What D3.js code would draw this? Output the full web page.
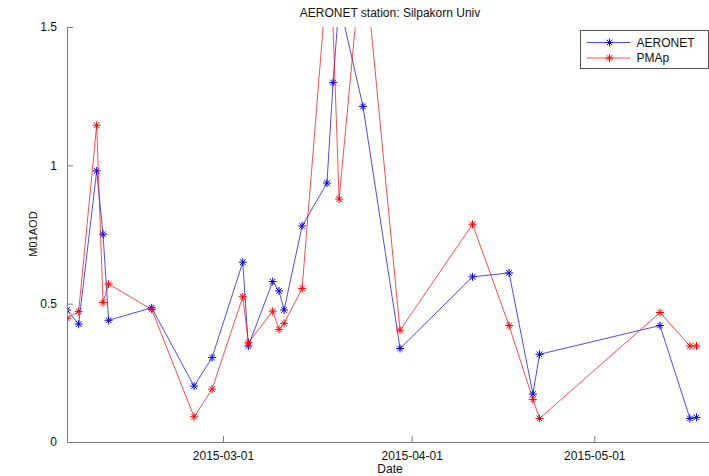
<!DOCTYPE html>
<html>
<head>
<meta charset="utf-8">
<script src="https://cdn.jsdelivr.net/npm/d3@7"></script>
<style>
  body { margin: 0; background: #fff; }
  svg { display: block; font-family: "Liberation Sans", Arial, sans-serif; }
</style>
</head>
<body>
<div id="chart"></div>
<script>
// AERONET station values (blue)
const aeronetDates = [
  '2015-02-03T09:00', '2015-02-05T07:00', '2015-02-08T06:00', '2015-02-09T07:00',
  '2015-02-10T05:00', '2015-02-17T07:00', '2015-02-24T06:00', '2015-02-27T05:00',
  '2015-03-04T06:00', '2015-03-05T04:00', '2015-03-09T04:00', '2015-03-10T05:00',
  '2015-03-11T01:00', '2015-03-14T00:00', '2015-03-18T02:00', '2015-03-19T02:00',
  '2015-03-20T02:00', '2015-03-24T00:00', '2015-03-30T02:00', '2015-04-11T00:00',
  '2015-04-17T00:00', '2015-04-20T22:00', '2015-04-22T00:00', '2015-05-11T19:00',
  '2015-05-16T17:00', '2015-05-17T19:00',
];
const aeronetValues = [
  0.477, 0.426, 0.98, 0.751, 0.44, 0.485, 0.202, 0.305,
  0.65, 0.347, 0.58, 0.546, 0.477, 0.781, 0.936, 1.299,
  1.59, 1.213, 0.338, 0.597, 0.611, 0.173, 0.317, 0.421,
  0.085, 0.089,
];

// PMAp retrievals (red)
const pmapDates = [
  '2015-02-03T09:00', '2015-02-05T07:00', '2015-02-08T06:00', '2015-02-09T07:00',
  '2015-02-10T05:00', '2015-02-17T07:00', '2015-02-24T06:00', '2015-02-27T05:00',
  '2015-03-04T06:00', '2015-03-05T04:00', '2015-03-09T04:00', '2015-03-10T05:00',
  '2015-03-11T01:00', '2015-03-14T00:00', '2015-03-18T14:00', '2015-03-20T02:00',
  '2015-03-24T00:00', '2015-03-30T02:00', '2015-04-11T00:00', '2015-04-17T00:00',
  '2015-04-20T22:00', '2015-04-22T00:00', '2015-05-11T19:00', '2015-05-16T17:00',
  '2015-05-17T19:00',
];
const pmapValues = [
  0.447, 0.472, 1.145, 0.504, 0.571, 0.479, 0.091, 0.191,
  0.525, 0.359, 0.473, 0.407, 0.429, 0.555, 1.81, 0.878,
  1.80, 0.404, 0.787, 0.421, 0.154, 0.085, 0.468, 0.347,
  0.347,
];

const xTickDates = ['2015-03-01', '2015-04-01', '2015-05-01'];
const yTicks = [0, 0.5, 1, 1.5];
const xLimits = ['2015-02-03T09:00', '2015-05-20T12:00'];
const yLimits = [0, 1.5];

const width = 709;
const height = 476;
const plot = { left: 67, right: 713, top: 27, bottom: 442 };

const parse = d3.utcParse('%Y-%m-%dT%H:%M');
const parseDay = d3.utcParse('%Y-%m-%d');

const x = d3.scaleUtc()
  .domain(xLimits.map(parse))
  .range([plot.left, plot.right]);
const y = d3.scaleLinear()
  .domain(yLimits)
  .range([plot.bottom, plot.top]);

const series = [
  { name: 'AERONET', color: '#0000ff', dates: aeronetDates, values: aeronetValues },
  { name: 'PMAp', color: '#ff0000', dates: pmapDates, values: pmapValues },
];

const svg = d3.select('#chart').append('svg')
  .attr('width', width)
  .attr('height', height);

svg.append('defs').append('clipPath')
  .attr('id', 'plot-clip')
  .append('rect')
  .attr('x', plot.left)
  .attr('y', plot.top)
  .attr('width', plot.right - plot.left)
  .attr('height', plot.bottom - plot.top);

// asterisk marker, like matlab '*'
const star = 'M-4,0L4,0M0,-4L0,4M-2.8,-2.8L2.8,2.8M-2.8,2.8L2.8,-2.8';

const line = d3.line()
  .x((d) => x(d.date))
  .y((d) => y(d.value));

const marks = svg.append('g').attr('clip-path', 'url(#plot-clip)');

series.forEach((s) => {
  const pts = s.dates.map((d, i) => ({ date: parse(d), value: s.values[i] }));
  marks.append('path')
    .datum(pts)
    .attr('fill', 'none')
    .attr('stroke', s.color)
    .attr('stroke-opacity', 0.7)
    .attr('stroke-width', 1)
    .attr('d', line);
  marks.selectAll(null)
    .data(pts)
    .enter()
    .append('path')
    .attr('transform', (d) => `translate(${x(d.date)},${y(d.value)})`)
    .attr('d', star)
    .attr('fill', 'none')
    .attr('stroke', s.color)
    .attr('stroke-width', 1);
});

// axes, ticks pointing inward
const axisColor = '#7a7a7a';
const textColor = '#111';

const xAxis = d3.axisBottom(x)
  .tickValues(xTickDates.map(parseDay))
  .tickFormat(d3.utcFormat('%Y-%m-%d'))
  .tickSizeInner(-6)
  .tickSizeOuter(0)
  .tickPadding(9);
const gx = svg.append('g')
  .attr('transform', `translate(0,${plot.bottom})`)
  .call(xAxis);

const yAxis = d3.axisLeft(y)
  .tickValues(yTicks)
  .tickFormat(d3.format('~g'))
  .tickSizeInner(-6)
  .tickSizeOuter(0)
  .tickPadding(10);
const gy = svg.append('g')
  .attr('transform', `translate(${plot.left},0)`)
  .call(yAxis);

[gx, gy].forEach((g) => {
  g.select('.domain').attr('stroke', axisColor);
  g.selectAll('.tick line').attr('stroke', axisColor);
  g.selectAll('.tick text')
    .attr('fill', textColor)
    .style('font-size', '12px')
    .style('font-family', '"Liberation Sans", Arial, sans-serif');
});

svg.append('text')
  .attr('x', 390)
  .attr('y', 17)
  .attr('text-anchor', 'middle')
  .attr('fill', textColor)
  .style('font-size', '12px')
  .text('AERONET station: Silpakorn Univ');

svg.append('text')
  .attr('x', 390)
  .attr('y', 472.5)
  .attr('text-anchor', 'middle')
  .attr('fill', textColor)
  .style('font-size', '12px')
  .text('Date');

svg.append('text')
  .attr('transform', 'translate(37,234) rotate(-90)')
  .attr('text-anchor', 'middle')
  .attr('fill', textColor)
  .style('font-size', '11px')
  .text('M01AOD');

// legend
const legend = svg.append('g').attr('transform', 'translate(580.5,30.5)');
legend.append('rect')
  .attr('width', 128)
  .attr('height', 38)
  .attr('fill', '#fff')
  .attr('stroke', '#555');

series.forEach((s, i) => {
  const row = legend.append('g').attr('transform', `translate(0,${12 + i * 15.5})`);
  row.append('line')
    .attr('x1', 6)
    .attr('x2', 50)
    .attr('stroke', s.color)
    .attr('stroke-opacity', 0.7);
  row.append('path')
    .attr('transform', 'translate(29,0)')
    .attr('d', star)
    .attr('fill', 'none')
    .attr('stroke', s.color);
  row.append('text')
    .attr('x', 56)
    .attr('dy', '0.35em')
    .attr('fill', textColor)
    .style('font-size', '12px')
    .text(s.name);
});
</script>
</body>
</html>
